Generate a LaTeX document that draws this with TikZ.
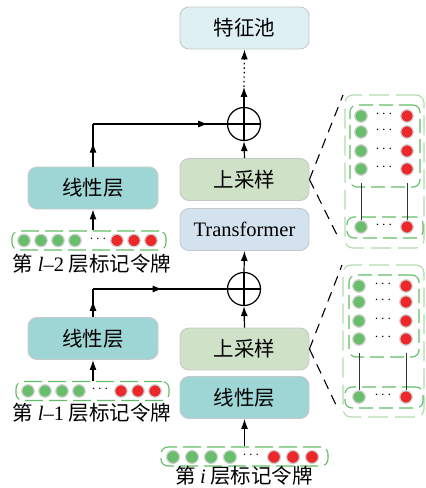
\documentclass[tikz,border=0pt]{standalone}
\usepackage{fontspec}
\setmainfont{Liberation Serif}
\newfontfamily\cjk{Noto Sans CJK SC}
\usepackage{tikz}
\usetikzlibrary{positioning, calc, arrows.meta, decorations.markings}
\definecolor{poolcyan}{RGB}{222,240,244}
\definecolor{upgreen}{RGB}{207,226,200}
\definecolor{transblue}{RGB}{211,226,238}
\definecolor{lincyan}{RGB}{158,214,214}
\definecolor{boxgray}{RGB}{200,200,200}
\definecolor{tokgreen}{RGB}{104,190,106}
\definecolor{tokred}{RGB}{236,40,42}
\definecolor{dashgreen}{RGB}{98,190,102}
\definecolor{dashlight}{RGB}{176,220,170}

\begin{document}
\begin{tikzpicture}[x=1pt, y=-1pt,
	blk/.style={draw=boxgray, line width=0.9pt, rounded corners=9pt, minimum width=129pt, minimum height=42pt, inner sep=0pt, font=\fontsize{20.5}{24}\cjk},
	tokrow/.style={draw=dashgreen, line width=1.1pt, dash pattern=on 18pt off 6pt, rounded corners=7pt, minimum height=19pt, inner sep=0pt},
	gdot/.style={circle, fill=tokgreen, draw=gray!35, line width=1.2pt, minimum size=12.5pt, inner sep=0pt},
	rdot/.style={circle, fill=tokred, draw=gray!35, line width=1.2pt, minimum size=12.5pt, inner sep=0pt},
	dots/.style={inner sep=0pt, font=\fontsize{14}{14}\selectfont},
	lab/.style={inner sep=0pt, font=\fontsize{20.5}{24}\cjk},
	plus/.style={circle, draw, line width=1.2pt, minimum size=33pt, inner sep=0pt, path picture={\draw[line width=1.2pt] (path picture bounding box.north) -- (path picture bounding box.south) (path picture bounding box.west) -- (path picture bounding box.east);}},
	conn/.style={line width=1.2pt},
	arr/.style={-{Latex[length=10pt,width=7pt]}},
	midtip/.style={postaction={decorate}, decoration={markings, mark=at position #1 with {\arrow{Latex[length=10pt,width=7pt]}}}},
	dotline/.style={dash pattern=on 1.5pt off 3pt},
	zoomline/.style={line width=1.1pt, dash pattern=on 10pt off 7pt},
	outerbox/.style={draw=dashlight, line width=1.1pt, dash pattern=on 20pt off 7pt, rounded corners=8pt, inner sep=0pt},
	innerbox/.style={draw=dashgreen, line width=1.1pt, dash pattern=on 14pt off 6pt, rounded corners=7pt, inner sep=0pt}]
	\useasboundingbox (0,0) rectangle (426,488);
	
	% middle column
	\node[blk, fill=poolcyan] (fpool) at (244.5,28) {特征池};
	\node[plus] (plusA) at (244,124) {};
	\node[blk, fill=upgreen] (upA) at (244.5,179.5) {上采样};
	\node[blk, fill=transblue, font=\fontsize{20.5}{24}\selectfont] (trans) at (244.5,229.5) {Transformer};
	\node[plus] (plusB) at (244,289) {};
	\node[blk, fill=upgreen] (upB) at (244.5,349) {上采样};
	\node[blk, fill=lincyan] (linR) at (244.5,397.5) {线性层};
	
	% left column
	\node[blk, fill=lincyan, minimum width=130pt] (linA) at (93,188) {线性层};
	\node[blk, fill=lincyan, minimum width=130pt] (linB) at (93,338.5) {线性层};
	
	% token rows
	\node[tokrow, minimum width=154pt] (rowA) at (89,240.5) {};
	\foreach \x in {24,41,58,75} \node[gdot] at (\x,240.5) {};
	\node[dots] at (98,239) {$\cdots$};
	\foreach \x in {117,134,151} \node[rdot] at (\x,240.5) {};
	\node[lab] (labA) at (92,264) {第 {\rmfamily\itshape l}{\rmfamily –2} 层标记令牌};
	
	\node[tokrow, minimum width=153pt] (rowB) at (92.5,391) {};
	\foreach \x in {28,45,62,79} \node[gdot] at (\x,391) {};
	\node[dots] at (100,389.5) {$\cdots$};
	\foreach \x in {121,138,155} \node[rdot] at (\x,391) {};
	\node[lab] (labB) at (92,413) {第 {\rmfamily\itshape l}{\rmfamily –1} 层标记令牌};
	
	\node[tokrow, minimum width=167pt] (rowC) at (244.5,456.5) {};
	\foreach \x in {173,192,211,230} \node[gdot, minimum size=13pt] at (\x,457) {};
	\node[dots] at (251,455.5) {$\cdots$};
	\foreach \x in {274,293,312} \node[rdot, minimum size=13pt] at (\x,457) {};
	\node[lab] (labC) at (244,475.5) {第 {\rmfamily\itshape i} 层标记令牌};
	
	% connectors
	\draw[conn, arr] (rowA.north -| linA.south) -- (linA.south);
	\coordinate (kA) at (linA.north |- plusA.west);
	\draw[conn, midtip=0.56] (linA.north) -- (kA);
	\draw[conn, midtip=0.86] (kA) -- (plusA.west);
	\draw[conn, arr] (upA.north) -- (plusA.south);
	\coordinate (dA) at ($(plusA.north)+(0,-20)$);
	\draw[conn, arr] (plusA.north) -- (dA);
	\draw[conn, dotline, arr] (dA) -- (fpool.south);
	
	\draw[conn, arr] (rowB.north -| linB.south) -- (linB.south);
	\coordinate (kB) at (linB.north |- plusB.west);
	\draw[conn, midtip=0.58] (linB.north) -- (kB);
	\draw[conn, midtip=0.52] (kB) -- (plusB.west);
	\draw[conn, arr] (upB.north) -- (plusB.south);
	\draw[conn, arr] (plusB.north) -- (trans.south);
	\draw[conn, arr] (rowC.north) -- (linR.south);
	
	% upper detail
	\node[outerbox, minimum width=79pt, minimum height=153pt] (outA) at (384.5,171.5) {};
	\node[innerbox, minimum width=70pt, minimum height=82pt] (inA) at (385,146) {};
	\node[innerbox, minimum width=76pt, minimum height=21pt] (lowA) at (385,227.5) {};
	\foreach \y [count=\i] in {116,132,151,169} {
		\node[gdot] (gA\i) at (361,\y) {};
		\node[dots] at (384,\y-1.5) {$\cdots$};
		\node[rdot] (rA\i) at (407,\y) {};
	}
	\node[gdot] (gA5) at (361,227) {};
	\node[dots] at (384,225.5) {$\cdots$};
	\node[rdot] (rA5) at (407,227) {};
	\draw[line width=1pt, black!80, shorten <=7pt] (gA4) -- (gA5);
	\draw[line width=1pt, black!80, shorten <=7pt] (rA4) -- (rA5);
	\coordinate (zA1) at (343,95);
	\coordinate (zA2) at (338,237);
	\draw[zoomline] (upA.east) -- (zA1);
	\draw[zoomline] (upA.east) -- (zA2);
	
	% lower detail
	\node[outerbox, minimum width=81pt, minimum height=152pt] (outB) at (383.5,341) {};
	\node[innerbox, minimum width=70pt, minimum height=82pt] (inB) at (384,316) {};
	\node[innerbox, minimum width=78pt, minimum height=21pt] (lowB) at (384,397.5) {};
	\foreach \y [count=\i] in {286,302,321,339} {
		\node[gdot] (gB\i) at (359,\y) {};
		\node[dots] at (383,\y-1.5) {$\cdots$};
		\node[rdot] (rB\i) at (406,\y) {};
	}
	\node[gdot] (gB5) at (359,397) {};
	\node[dots] at (383,395.5) {$\cdots$};
	\node[rdot] (rB5) at (406,397) {};
	\draw[line width=1pt, black!80, shorten <=7pt] (gB4) -- (gB5);
	\draw[line width=1pt, black!80, shorten <=7pt] (rB4) -- (rB5);
	\coordinate (zB1) at (342,265);
	\coordinate (zB2) at (337,407);
	\draw[zoomline] (upB.east) -- (zB1);
	\draw[zoomline] (upB.east) -- (zB2);
\end{tikzpicture}
\end{document}
